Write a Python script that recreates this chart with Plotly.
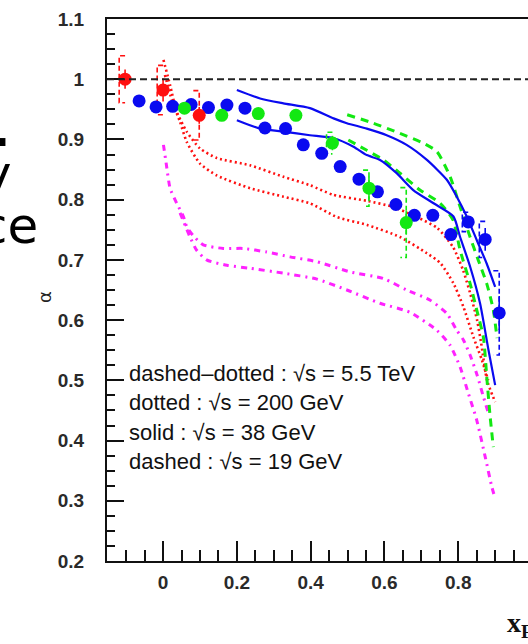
import plotly.graph_objects as go

# ---------------- data ----------------
# measured points (x_F, alpha)
blue_x = [-0.065, -0.019, 0.026, 0.076, 0.123, 0.173, 0.222, 0.276, 0.332, 0.380, 0.430,
          0.480, 0.531, 0.581, 0.631, 0.681, 0.731, 0.780, 0.827, 0.873, 0.911]
blue_y = [0.964, 0.954, 0.955, 0.958, 0.953, 0.957, 0.952, 0.919, 0.918, 0.891, 0.877,
          0.855, 0.834, 0.813, 0.792, 0.774, 0.774, 0.742, 0.763, 0.734, 0.612]
blue_stat = [0, 0, 0, 0, 0, 0, 0, 0, 0, 0, 0, 0, 0, 0, 0, 0, 0, 0, 0.010, 0.019, 0.028]
blue_syst = [0, 0, 0, 0, 0, 0, 0, 0, 0, 0, 0, 0, 0, 0, 0, 0, 0, 0, 0.016, 0.030, 0.070]

red_x = [-0.103, 0.000, 0.098]
red_y = [1.000, 0.982, 0.940]
red_stat = [0.016, 0.019, 0.014]
red_syst = [0.039, 0.041, 0.041]

green_x = [0.058, 0.159, 0.258, 0.360, 0.459, 0.558, 0.659]
green_y = [0.952, 0.940, 0.943, 0.940, 0.894, 0.819, 0.762]
green_stat = [0, 0, 0, 0, 0.012, 0.019, 0.019]
green_syst = [0, 0, 0, 0, 0.018, 0.030, 0.058]

# theory curves
solid_up_x = [0.200, 0.263, 0.326, 0.398, 0.462, 0.498, 0.552, 0.606, 0.660, 0.715, 0.769, 0.796, 0.823, 0.850, 0.877, 0.900]
solid_up_y = [0.982, 0.968, 0.960, 0.952, 0.935, 0.927, 0.918, 0.907, 0.891, 0.866, 0.833, 0.805, 0.772, 0.733, 0.694, 0.655]
solid_lo_x = [0.200, 0.263, 0.326, 0.398, 0.462, 0.516, 0.552, 0.588, 0.633, 0.678, 0.733, 0.787, 0.805, 0.832, 0.859, 0.882, 0.900]
solid_lo_y = [0.932, 0.918, 0.913, 0.907, 0.902, 0.888, 0.874, 0.866, 0.844, 0.816, 0.794, 0.772, 0.738, 0.689, 0.628, 0.550, 0.492]

dashed_up_x = [0.499, 0.570, 0.642, 0.705, 0.742, 0.778, 0.805, 0.832, 0.854, 0.877, 0.895, 0.905]
dashed_up_y = [0.941, 0.927, 0.910, 0.894, 0.880, 0.838, 0.788, 0.738, 0.700, 0.661, 0.617, 0.570]
dashed_lo_x = [0.502, 0.552, 0.597, 0.642, 0.696, 0.751, 0.786, 0.805, 0.832, 0.850, 0.868, 0.878, 0.886, 0.895]
dashed_lo_y = [0.899, 0.882, 0.866, 0.844, 0.816, 0.794, 0.766, 0.716, 0.661, 0.617, 0.572, 0.500, 0.442, 0.389]

dotted_up_x = [0.001, 0.019, 0.037, 0.064, 0.100, 0.146, 0.236, 0.326, 0.398, 0.461, 0.553, 0.623,
               0.688, 0.743, 0.786, 0.813, 0.832, 0.851, 0.862, 0.878, 0.900]
dotted_up_y = [1.032, 0.990, 0.946, 0.913, 0.885, 0.869, 0.857, 0.838, 0.824, 0.808, 0.798, 0.788,
               0.771, 0.753, 0.721, 0.683, 0.645, 0.600, 0.562, 0.500, 0.464]
dotted_lo_x = [0.005, 0.024, 0.046, 0.064, 0.100, 0.146, 0.236, 0.326, 0.398, 0.472, 0.553, 0.642,
               0.715, 0.751, 0.787, 0.814, 0.841, 0.864, 0.881]
dotted_lo_y = [1.007, 0.965, 0.929, 0.896, 0.860, 0.840, 0.819, 0.805, 0.794, 0.771, 0.758, 0.738,
               0.711, 0.695, 0.661, 0.622, 0.572, 0.534, 0.500]

dashdot_up_x = [0.001, 0.008, 0.019, 0.037, 0.055, 0.064, 0.082, 0.109, 0.163, 0.218, 0.281, 0.344,
                0.417, 0.507, 0.597, 0.660, 0.724, 0.769, 0.796, 0.814, 0.832, 0.851, 0.867, 0.881]
dashdot_up_y = [0.891, 0.862, 0.819, 0.794, 0.772, 0.755, 0.740, 0.725, 0.719, 0.719, 0.713, 0.705,
                0.697, 0.680, 0.669, 0.650, 0.633, 0.611, 0.583, 0.567, 0.542, 0.509, 0.475, 0.447]
dashdot_lo_x = [0.046, 0.073, 0.091, 0.118, 0.173, 0.236, 0.326, 0.417, 0.498, 0.588, 0.669, 0.742,
                0.778, 0.805, 0.827, 0.850, 0.873, 0.891, 0.900]
dashdot_lo_y = [0.778, 0.738, 0.716, 0.700, 0.691, 0.686, 0.678, 0.668, 0.650, 0.628, 0.613, 0.583,
                0.558, 0.522, 0.479, 0.434, 0.373, 0.323, 0.304]

legend_lines = ["dashed\u2013dotted : \u221as = 5.5 TeV",
                "dotted : \u221as = 200 GeV",
                "solid : \u221as = 38 GeV",
                "dashed : \u221as = 19 GeV"]
legend_y = [0.512, 0.463, 0.413, 0.365]

# ---------------- layout constants ----------------
W, H = 528, 644
ML, MR, MT, MB = 107, 0, 19, 83
X_RANGE = [-0.152, 0.989]
Y_RANGE = [0.2, 1.1]

BLUE = "#0a0af0"
RED = "#ff1010"
GREEN = "#12e812"
MAGENTA = "#ff22ff"

fig = go.Figure()


def curve(xs, ys, color, dash, width):
    fig.add_trace(go.Scatter(x=xs, y=ys, mode="lines",
                             line=dict(color=color, dash=dash, width=width,
                                       shape="spline", smoothing=0.6),
                             hoverinfo="skip", showlegend=False))


curve(dashdot_up_x, dashdot_up_y, MAGENTA, "6px,5px,2px,5px", 3)
curve(dashdot_lo_x, dashdot_lo_y, MAGENTA, "6px,5px,2px,5px", 3)
curve(dotted_up_x, dotted_up_y, RED, "2px,3px", 2.6)
curve(dotted_lo_x, dotted_lo_y, RED, "2px,3px", 2.6)
curve(dashed_up_x, dashed_up_y, GREEN, "8px,6px", 3)
curve(dashed_lo_x, dashed_lo_y, GREEN, "8px,6px", 3)
curve(solid_up_x, solid_up_y, BLUE, "solid", 2.2)
curve(solid_lo_x, solid_lo_y, BLUE, "solid", 2.2)

fig.add_hline(y=1.0, line=dict(color="#222222", width=2, dash="7px,4px"))

BR_W = 0.016  # bracket tick width (x units)


def brackets(xs, ys, syst, sides, color):
    bx, by = [], []
    for x, y, s, side in zip(xs, ys, syst, sides):
        if s <= 0:
            continue
        if side < 0:
            bx += [x, x - BR_W, x - BR_W, x, None]
        else:
            bx += [x - BR_W, x, x, x - BR_W, None]
        by += [y + s, y + s, y - s, y - s, None]
    fig.add_trace(go.Scatter(x=bx, y=by, mode="lines",
                             line=dict(color=color, width=1.6, dash="5px,3px"),
                             hoverinfo="skip", showlegend=False))


def points(xs, ys, stat, color):
    fig.add_trace(go.Scatter(x=xs, y=ys, mode="markers",
                             marker=dict(color=color, size=13, line=dict(width=0)),
                             error_y=dict(type="data", array=stat, visible=True,
                                          color=color, thickness=1.6, width=0),
                             hoverinfo="skip", showlegend=False))


brackets(blue_x, blue_y, blue_syst, [0] * 18 + [-1, -1, 1], BLUE)
brackets(red_x, red_y, red_syst, [-1, -1, 1], RED)
brackets(green_x, green_y, green_syst, [0, 0, 0, 0, -1, 1, 1], GREEN)
points(blue_x, blue_y, blue_stat, BLUE)
points(green_x, green_y, green_stat, GREEN)
points(red_x, red_y, red_stat, RED)

annotations = []
for txt, yy in zip(legend_lines, legend_y):
    annotations.append(dict(x=-0.098, y=yy, xref="x", yref="y", text=txt,
                            showarrow=False, xanchor="left", yanchor="middle",
                            font=dict(family="Liberation Sans, Arial", size=22, color="#111")))


def px_to_paper(px, py):
    return (px - ML) / (W - ML - MR), (H - MB - py) / (H - MT - MB)


# axis labels
ax, ay = px_to_paper(45, 297)
annotations.append(dict(x=ax, y=ay, xref="paper", yref="paper", text="\u03b1",
                        showarrow=False, textangle=-90, xanchor="center", yanchor="middle",
                        font=dict(family="DejaVu Sans", size=18, color="#222")))
bx_, by_ = px_to_paper(505, 624)
annotations.append(dict(x=bx_, y=by_, xref="paper", yref="paper",
                        text="<b>x<sub>F</sub></b>", showarrow=False,
                        xanchor="left", yanchor="middle",
                        font=dict(family="Liberation Serif, Times New Roman", size=28, color="#111")))

# fragments of slide text on the left edge
for txt, px, py, sz in [(".", 14, 124, 64), ("y", 14, 174, 50), ("ce", 40, 226, 50)]:
    fx, fy = px_to_paper(px, py)
    annotations.append(dict(x=fx, y=fy, xref="paper", yref="paper", text=txt,
                            showarrow=False, xanchor="right", yanchor="middle",
                            font=dict(family="DejaVu Sans", size=sz, color="#000")))

TICKFONT = dict(family="Liberation Sans Narrow, Liberation Sans, Arial", size=19,
                color="#2a2a2a", weight="bold")

fig.update_layout(
    width=W, height=H,
    margin=dict(l=ML, r=MR, t=MT, b=MB, pad=0),
    paper_bgcolor="white", plot_bgcolor="white",
    showlegend=False,
    annotations=annotations,
    xaxis=dict(range=X_RANGE, showgrid=False, zeroline=False,
               showline=True, linecolor="#111", linewidth=2, mirror=True,
               ticks="inside", ticklen=20, tickwidth=1.6, tickcolor="#111",
               tick0=0, dtick=0.2, tickfont=TICKFONT, ticklabelstandoff=3,
               minor=dict(ticks="inside", dtick=0.05, tick0=0, ticklen=11,
                          tickwidth=1.6, tickcolor="#111", showgrid=False)),
    yaxis=dict(range=Y_RANGE, showgrid=False, zeroline=False,
               showline=True, linecolor="#111", linewidth=2, mirror=False,
               ticks="inside", ticklen=17, tickwidth=1.6, tickcolor="#111",
               tick0=0, dtick=0.1, tickfont=TICKFONT, ticklabelstandoff=17,
               minor=dict(ticks="inside", dtick=0.025, tick0=0, ticklen=8,
                          tickwidth=1.6, tickcolor="#111", showgrid=False)),
)

fig.write_html("out.html")
